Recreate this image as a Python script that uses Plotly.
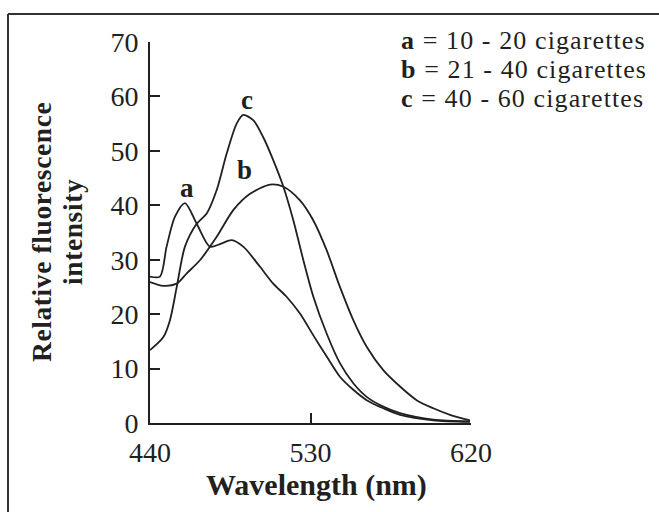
import plotly.graph_objects as go

# Data (wavelength nm, relative fluorescence intensity)
wl_a = [440, 445.6, 449.3, 454.0, 459.6, 466.2, 473.6, 479.5, 485.8, 492.3, 501.7, 509.1, 516.6, 524.1, 531.6, 539.1, 546.5, 554.0, 561.5, 570.8, 580.2, 598.9, 619.4]
int_a = [26.9, 26.9, 32.4, 37.9, 40.4, 36.6, 32.4, 32.9, 33.6, 32.4, 28.7, 25.6, 23.2, 20.1, 16.1, 12.2, 8.5, 6.1, 4.2, 2.7, 1.5, 0.5, 0.2]

wl_b = [440, 447.5, 455.0, 460.6, 468.0, 477.4, 486.7, 496.1, 507.3, 514.8, 524.1, 531.6, 539.1, 546.5, 554.0, 561.5, 570.8, 580.2, 589.5, 598.9, 608.2, 619.4]
int_b = [25.9, 25.2, 25.6, 27.5, 29.9, 34.2, 39.1, 42.1, 43.8, 43.4, 40.9, 37.2, 31.7, 25.0, 18.9, 14.0, 9.7, 6.7, 4.2, 2.7, 1.5, 0.5]

wl_c = [440, 447.5, 451.2, 455.0, 459.6, 466.2, 471.8, 477.4, 483.0, 488.6, 492.3, 498.0, 503.5, 509.1, 514.8, 520.4, 526.0, 531.6, 539.1, 546.5, 554.0, 561.5, 570.8, 580.2, 598.9, 619.4]
int_c = [13.4, 15.8, 18.9, 25.0, 32.4, 36.6, 38.5, 42.8, 49.5, 55.0, 56.6, 55.6, 52.5, 48.3, 43.4, 37.2, 29.9, 23.2, 16.4, 11.0, 7.3, 4.8, 3.0, 1.8, 0.6, 0.3]

x_ticks = [440, 530, 620]
y_ticks = [0, 10, 20, 30, 40, 50, 60, 70]

curve_labels = ["a", "b", "c"]
label_pos = [(460.7, 43.1), (493.0, 46.4), (494.4, 59.4)]
legend_lines = ["<b>a</b> = 10 - 20 cigarettes", "<b>b</b> = 21 - 40 cigarettes", "<b>c</b> = 40 - 60 cigarettes"]
y_title_lines = ["Relative fluorescence", "intensity"]

INK = "#231f20"
FONT = "Liberation Serif, Times New Roman, serif"

fig = go.Figure()
for wx, wy in [(wl_a, int_a), (wl_b, int_b), (wl_c, int_c)]:
    fig.add_trace(go.Scatter(x=wx, y=wy, mode="lines",
                             line=dict(color=INK, width=1.8, shape="spline", smoothing=0.8),
                             showlegend=False, hoverinfo="skip"))

# plot area: x 150..471 px, y 42..423 px
L, R, T, B = 150, 471, 42, 423
W, H = R - L, B - T

def px(x):
    return (x - L) / W

def py(y):
    return (B - y) / H

for lab, (lx, ly) in zip(curve_labels, label_pos):
    fig.add_annotation(x=lx, y=ly, text="<b>%s</b>" % lab, showarrow=False,
                       font=dict(family=FONT, size=27, color=INK))

# legend block: line pitch from outer font size (22.3*1.3 ~ 29px), glyphs at 26px
legend_text = "<br>".join('<span style="font-size:26px;letter-spacing:1.1px">%s</span>' % t for t in legend_lines)
fig.add_annotation(xref="paper", yref="paper", x=px(399), y=py(69.5),
                   xanchor="left", yanchor="middle", align="left", text=legend_text, showarrow=False,
                   font=dict(family=FONT, size=22.3, color=INK))

# outer frame (top and left edges visible)
fig.add_shape(type="line", xref="paper", yref="paper", x0=px(8), x1=px(700), y0=py(14), y1=py(14),
              line=dict(color="#333333", width=2))
fig.add_shape(type="line", xref="paper", yref="paper", x0=px(8), x1=px(8), y0=py(14), y1=py(560),
              line=dict(color="#333333", width=2))

# y title
y_title = "<br>".join('<span style="font-size:27.5px;letter-spacing:0.6px"><b>%s</b></span>' % t for t in y_title_lines)
fig.add_annotation(xref="paper", yref="paper", x=px(57), y=py(232), text=y_title,
                   textangle=-90, showarrow=False, xanchor="center", yanchor="middle",
                   font=dict(family=FONT, size=23.5, color=INK))
# x title
fig.add_annotation(xref="paper", yref="paper", x=px(316), y=py(485), text="<b>Wavelength (nm)</b>",
                   showarrow=False, xanchor="center", yanchor="middle",
                   font=dict(family=FONT, size=30, color=INK))

fig.update_xaxes(range=[440, 620], tickvals=x_ticks, ticktext=[str(v) for v in x_ticks],
                 showline=True, linecolor=INK, linewidth=1.8, ticks="inside", ticklen=10,
                 tickwidth=1.8, tickcolor=INK, showgrid=False, zeroline=False,
                 tickfont=dict(family=FONT, size=28, color=INK), ticklabelstandoff=3)
fig.update_yaxes(range=[0, 70], tickvals=y_ticks, ticktext=[str(v) for v in y_ticks],
                 showline=True, linecolor=INK, linewidth=1.8, ticks="inside", ticklen=10,
                 tickwidth=1.8, tickcolor=INK, showgrid=False, zeroline=False,
                 tickfont=dict(family=FONT, size=28, color=INK), ticklabelstandoff=4)

fig.update_layout(width=659, height=512, margin=dict(l=L, r=659 - R, t=T, b=512 - B),
                  paper_bgcolor="white", plot_bgcolor="white")

fig.write_html("out.html")
